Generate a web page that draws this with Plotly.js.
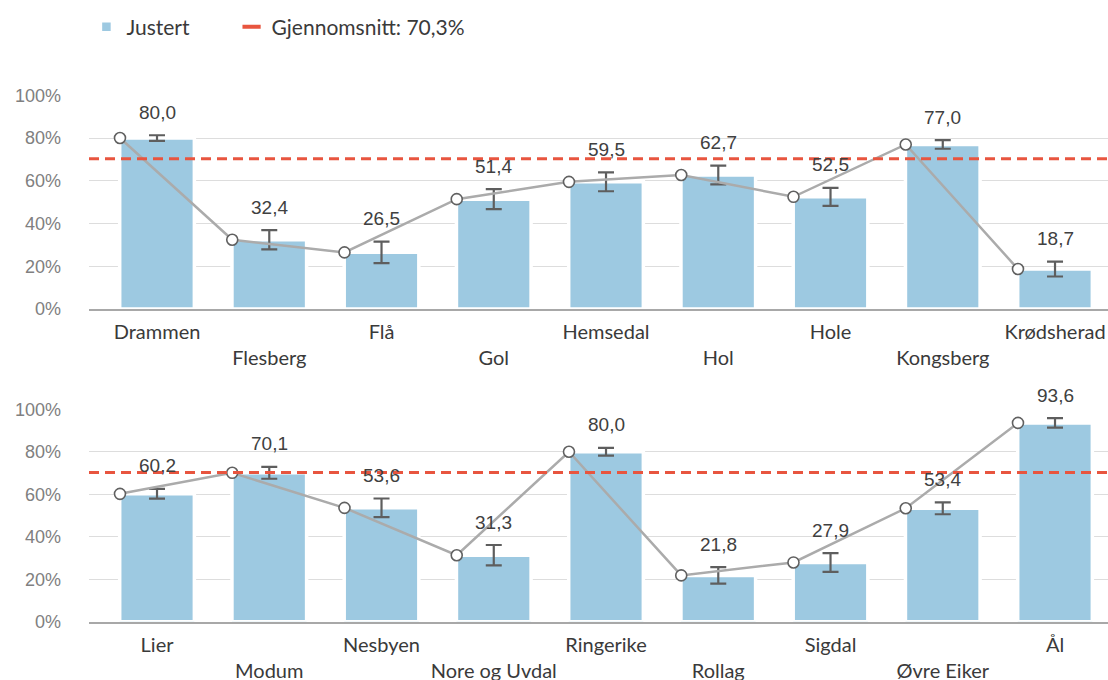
<!DOCTYPE html>
<html>
<head>
<meta charset="utf-8">
<script src="https://cdn.plot.ly/plotly-3.0.1.min.js"></script>
<style>html,body{margin:0;padding:0;background:#fff;}#chart{width:1108px;height:680px;}</style>
</head>
<body>
<div id="chart"></div>
<script>
// ---- data ----
const kommunerTopp = ["Drammen","Flesberg","Flå","Gol","Hemsedal","Hol","Hole","Kongsberg","Krødsherad"];
const verdierTopp  = [80.0, 32.4, 26.5, 51.4, 59.5, 62.7, 52.5, 77.0, 18.7];
const feilTopp     = [1.3, 4.5, 5.0, 4.7, 4.4, 4.4, 4.2, 2.0, 3.5];

const kommunerBunn = ["Lier","Modum","Nesbyen","Nore og Uvdal","Ringerike","Rollag","Sigdal","Øvre Eiker","Ål"];
const verdierBunn  = [60.2, 70.1, 53.6, 31.3, 80.0, 21.8, 27.9, 53.4, 93.6];
const feilBunn     = [2.3, 2.8, 4.4, 4.8, 1.8, 3.9, 4.4, 2.8, 2.2];

const gjennomsnitt = 70.3;
const yTicks = [0, 20, 40, 60, 80, 100];

// ---- style ----
const BAR_COLOR = "#9DC9E1";
const LINE_COLOR = "#ABABAB";
const RED = "#E8553F";
const ERR_COLOR = "#5E5E5E";
const LINE_OFFSET = -0.33;
const fmt = v => v.toFixed(1).replace(".", ",");

function panel(names, vals, errs, xa, ya, showLeg) {
  const idx = names.map((_, i) => i);
  const bar = {
    type: "bar", x: idx, y: vals, xaxis: xa, yaxis: ya,
    name: "Justert", showlegend: showLeg, legend: "legend",
    width: 0.665,
    marker: {color: BAR_COLOR, line: {color: "#ffffff", width: 3.5}},
    error_y: {type: "data", array: errs, visible: true, color: ERR_COLOR, thickness: 2.2, width: 8},
    hoverinfo: "skip"
  };
  const line = {
    type: "scatter", mode: "lines+markers",
    x: idx.map(i => i + LINE_OFFSET), y: vals, xaxis: xa, yaxis: ya,
    showlegend: false, cliponaxis: false,
    line: {color: LINE_COLOR, width: 2.5},
    marker: {size: 11, color: "#ffffff", line: {color: "#606060", width: 1.6}},
    hoverinfo: "skip"
  };
  return [bar, line];
}

function labels(vals, errs, xa, ya) {
  return vals.map((v, i) => ({
    x: i, y: v + errs[i], xref: xa, yref: ya,
    text: fmt(v), showarrow: false, yanchor: "middle", yshift: 23,
    font: {family: "Liberation Sans, Arial, sans-serif", size: 19, color: "#404040"}
  }));
}

const legendDummy = {
  type: "scatter", mode: "markers", x: [null], y: [null],
  name: "Gjennomsnitt: " + fmt(gjennomsnitt) + "%", legend: "legend2",
  marker: {symbol: "line-ew", size: 13, color: RED, line: {color: RED, width: 4}},
  showlegend: true, hoverinfo: "skip"
};

const data = [
  ...panel(kommunerTopp, verdierTopp, feilTopp, "x", "y", true),
  ...panel(kommunerBunn, verdierBunn, feilBunn, "x2", "y2", false),
  legendDummy
];

const W = 1108, H = 680;
const xdom = [89 / W, 1];
const xrange = [-0.606, 8.472];

function xaxisDef(names) {
  return {
    domain: xdom, range: xrange, fixedrange: true,
    tickmode: "array", tickvals: names.map((_, i) => i),
    ticktext: names.map((n, i) => i % 2 === 1 ? "<br>" + n : n),
    ticks: "", showgrid: false, zeroline: false,
    showline: true, linecolor: "#A8A8A8", linewidth: 2,
    tickfont: {family: "Lato, sans-serif", size: 20, color: "#3A3A3A"},
    ticklabelstandoff: 4
  };
}
function yaxisDef(dom, anchor) {
  return {
    domain: dom, range: [0, 100], anchor: anchor, fixedrange: true,
    tickmode: "array", tickvals: yTicks, ticktext: yTicks.map(t => t + "%"),
    showgrid: true, gridcolor: "#DDDDDD", gridwidth: 1,
    zeroline: false, showline: false, ticks: "",
    tickfont: {family: "Liberation Sans, Arial, sans-serif", size: 18, color: "#808080"},
    ticklabelstandoff: 27
  };
}

const legendStyle = {
  orientation: "h", xanchor: "left", y: 1 - 27 / H, yanchor: "middle",
  font: {family: "Lato, sans-serif", size: 21, color: "#3A3A3A"},
  itemwidth: 30, bgcolor: "rgba(0,0,0,0)"
};

const layout = {
  width: W, height: H,
  margin: {l: 0, r: 0, t: 0, b: 0},
  paper_bgcolor: "#ffffff", plot_bgcolor: "#ffffff",
  showlegend: true,
  legend: Object.assign({x: 0.078}, legendStyle),
  legend2: Object.assign({x: 0.209}, legendStyle),
  xaxis: Object.assign(xaxisDef(kommunerTopp), {anchor: "y"}),
  yaxis: yaxisDef([(H - 309) / H, (H - 95.3) / H], "x"),
  xaxis2: Object.assign(xaxisDef(kommunerBunn), {anchor: "y2"}),
  yaxis2: yaxisDef([(H - 621.7) / H, (H - 409.3) / H], "x2"),
  bargap: 0,
  shapes: [
    {type: "line", xref: "x domain", yref: "y", x0: 0, x1: 1, y0: gjennomsnitt, y1: gjennomsnitt,
     line: {color: RED, width: 3, dash: "10px,6px"}, layer: "above"},
    {type: "line", xref: "x2 domain", yref: "y2", x0: 0, x1: 1, y0: gjennomsnitt, y1: gjennomsnitt,
     line: {color: RED, width: 3, dash: "10px,6px"}, layer: "above"}
  ],
  annotations: [
    ...labels(verdierTopp, feilTopp, "x", "y"),
    ...labels(verdierBunn, feilBunn, "x2", "y2")
  ]
};

Plotly.newPlot("chart", data, layout, {staticPlot: true, displayModeBar: false});
</script>
</body>
</html>
